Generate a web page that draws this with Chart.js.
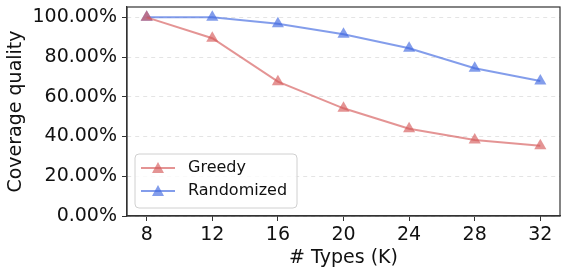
<!DOCTYPE html>
<html>
<head>
<meta charset="utf-8">
<script src="https://cdn.jsdelivr.net/npm/chart.js@4"></script>
<style>
  html, body { margin: 0; padding: 0; background: #fff; }
  #wrap { width: 567px; height: 272px; }
</style>
</head>
<body>
<div id="wrap"><canvas id="myChart" width="567" height="272"></canvas></div>
<script>
var types = [8, 12, 16, 20, 24, 28, 32];
var greedy = [100, 89.5, 67.6, 54.2, 43.9, 38.2, 35.4];
var randomized = [100, 100, 96.8, 91.5, 84.4, 74.4, 67.9];
var yTicks = [0, 20, 40, 60, 80, 100];

var redLine = 'rgba(214, 90, 90, 0.65)';
var blueLine = 'rgba(65, 105, 225, 0.65)';

function pts(vals) {
  return types.map(function (t, i) { return { x: t, y: vals[i] }; });
}

// matplotlib style box round the plot + legend inside the axes
var framePlugin = {
  id: 'frame',
  afterDraw: function (chart) {
    var a = chart.chartArea, c = chart.ctx;
    c.save();
    c.setLineDash([]);
    c.strokeStyle = '#333';
    c.lineWidth = 1.2;
    c.strokeRect(a.left, a.top, a.right - a.left, a.bottom - a.top);

    // legend box
    var bx = 135, by = 154, bw = 162, bh = 54;
    c.beginPath();
    c.roundRect(bx, by, bw, bh, 4);
    c.fillStyle = 'rgba(255,255,255,0.8)';
    c.fill();
    c.strokeStyle = '#d0d0d0';
    c.lineWidth = 1;
    c.stroke();
    var rows = [168, 191];
    chart.data.datasets.forEach(function (ds, i) {
      var y = rows[i];
      c.strokeStyle = ds.borderColor;
      c.lineWidth = 2;
      c.beginPath();
      c.moveTo(141, y);
      c.lineTo(175, y);
      c.stroke();
      c.fillStyle = ds.pointBackgroundColor;
      c.beginPath();
      c.moveTo(158, y - 6);
      c.lineTo(164, y + 5);
      c.lineTo(152, y + 5);
      c.closePath();
      c.fill();
      c.fillStyle = '#111';
      c.font = '16px "DejaVu Sans"';
      c.textBaseline = 'middle';
      c.fillText(ds.label, 188, y);
    });
    c.restore();
  }
};

var ctx = document.getElementById('myChart');
var myChart = new Chart(ctx, {
  type: 'line',
  data: {
    datasets: [{
      label: 'Greedy',
      data: pts(greedy),
      borderColor: redLine,
      backgroundColor: redLine,
      pointBackgroundColor: redLine,
      pointBorderWidth: 0,
      borderWidth: 2,
      pointStyle: 'triangle',
      pointRadius: 7
    }, {
      label: 'Randomized',
      data: pts(randomized),
      borderColor: blueLine,
      backgroundColor: blueLine,
      pointBackgroundColor: blueLine,
      pointBorderWidth: 0,
      borderWidth: 2,
      pointStyle: 'triangle',
      pointRadius: 7
    }]
  },
  options: {
    responsive: false,
    animation: false,
    layout: { padding: { top: 4, right: 1, left: 0, bottom: 0 } },
    plugins: { legend: { display: false }, tooltip: { enabled: false } },
    scales: {
      x: {
        type: 'linear',
        min: 6.8,
        max: 33.2,
        afterBuildTicks: function (s) { s.ticks = types.map(function (v) { return { value: v }; }); },
        afterFit: function (s) { s.height = 56; s.paddingLeft = 0; s.paddingRight = 0; },
        border: { display: true, color: '#333', width: 1.2 },
        grid: { drawOnChartArea: false, drawTicks: true, tickLength: 5, tickColor: '#333' },
        ticks: { color: '#111', padding: 3, font: { family: 'DejaVu Sans', size: 19 } },
        title: { display: true, text: '# Types (K)', color: '#111', padding: { top: 0, bottom: 3 },
                 font: { family: 'DejaVu Sans', size: 19 } }
      },
      y: {
        min: 0,
        max: 105.2,
        afterBuildTicks: function (s) { s.ticks = yTicks.map(function (v) { return { value: v }; }); },
        afterFit: function (s) { s.width = 127; s.paddingTop = 0; s.paddingBottom = 0; },
        border: { display: true, color: '#333', width: 1.2, dash: [4, 4] },
        grid: { color: '#e4e4e4', lineWidth: 1, tickLength: 5, tickColor: '#333', tickBorderDash: [], tickWidth: 1 },
        ticks: { color: '#111', padding: 5, font: { family: 'DejaVu Sans', size: 19 },
                 callback: function (v) { return v.toFixed(2) + '%'; } },
        title: { display: true, text: 'Coverage quality', color: '#111', padding: { top: 5, bottom: 0 },
                 font: { family: 'DejaVu Sans', size: 19 } }
      }
    }
  },
  plugins: [framePlugin]
});
</script>
</body>
</html>
